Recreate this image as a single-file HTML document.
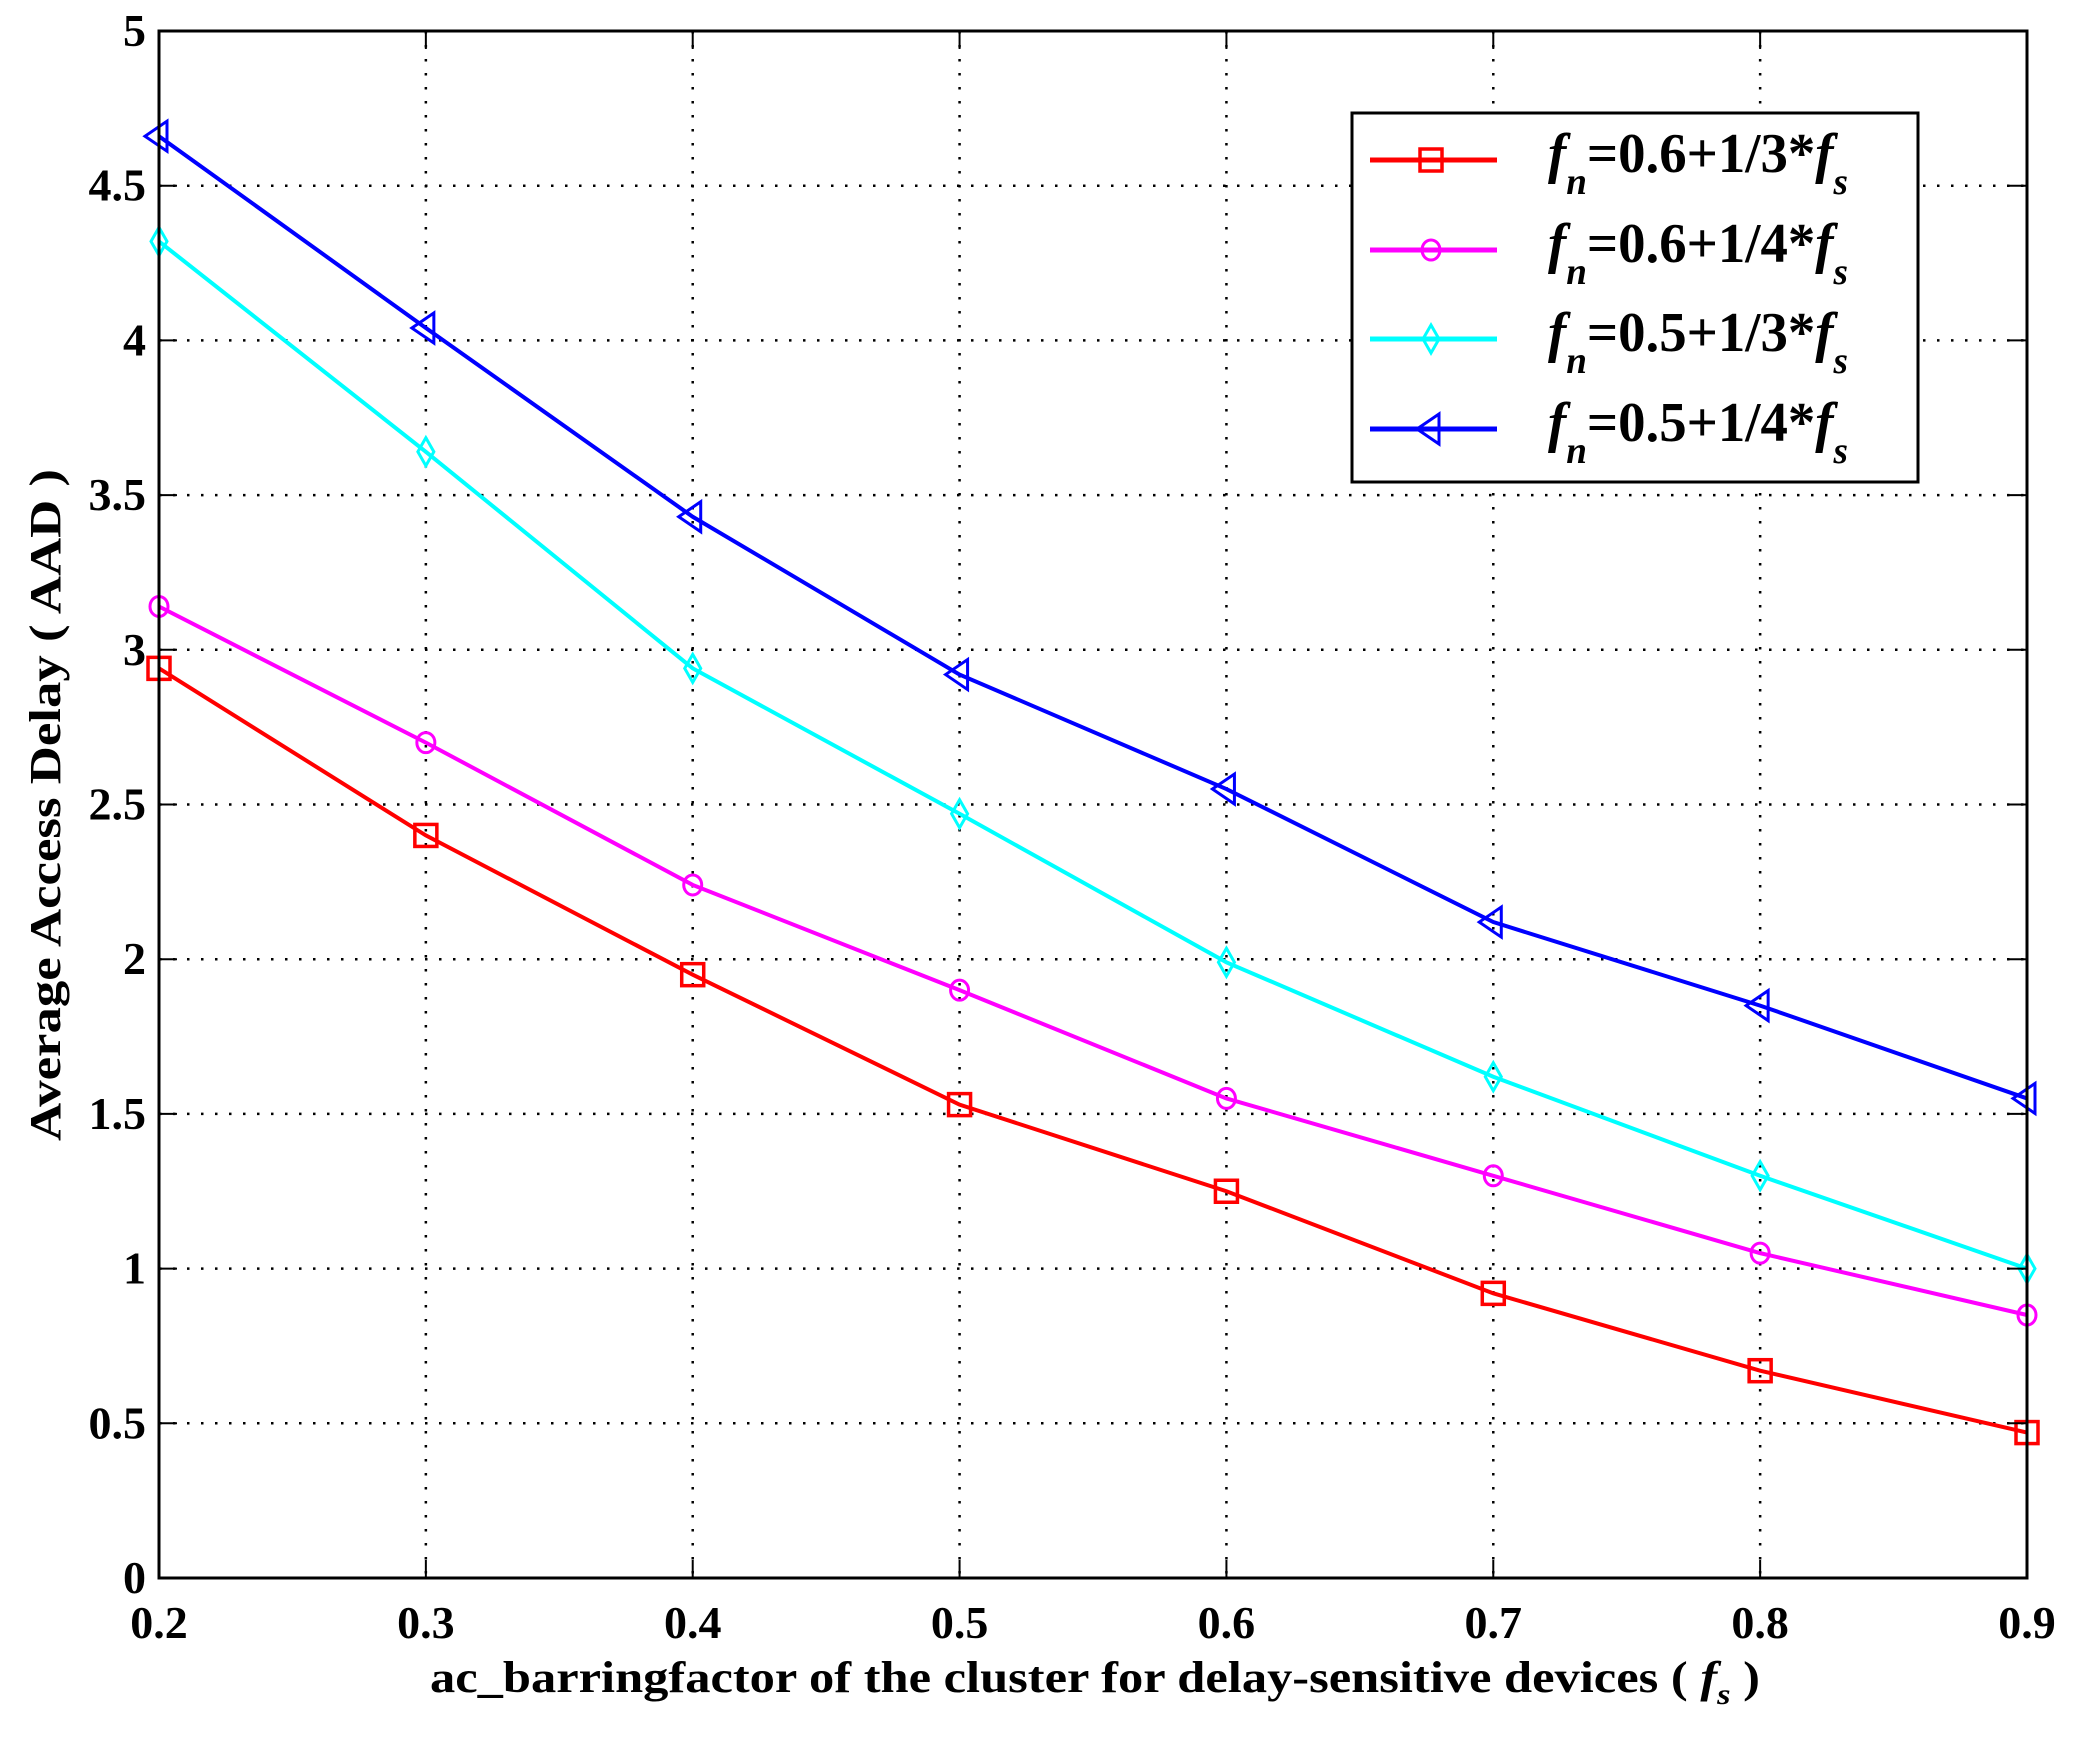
<!DOCTYPE html>
<html><head><meta charset="utf-8"><style>
html,body{margin:0;padding:0;background:#fff;}
svg text{font-family:"Liberation Serif","Times New Roman",serif;font-weight:bold;}
</style></head><body>
<svg id="chart" width="2073" height="1741" viewBox="0 0 2073 1741" xmlns="http://www.w3.org/2000/svg">
<rect width="2073" height="1741" fill="#fff"/>
<g id="grid"></g>
<g id="series"></g>
<g id="axes"></g>
<text x="1095" y="1692" font-size="44" text-anchor="middle" textLength="1330" lengthAdjust="spacingAndGlyphs">ac_barringfactor of the cluster for delay-sensitive devices  ( <tspan font-style="italic">f</tspan><tspan font-style="italic" font-size="30" dy="12">s</tspan><tspan dy="-12"> )</tspan></text>
<text transform="translate(60,805) rotate(-90)" font-size="44" text-anchor="middle" textLength="672" lengthAdjust="spacingAndGlyphs">Average Access Delay ( AAD )</text>
<g id="legend"></g>
</svg>
<script>
const categories = [0.2,0.3,0.4,0.5,0.6,0.7,0.8,0.9];
const seriesRed = [2.94,2.40,1.95,1.53,1.25,0.92,0.67,0.47];
const seriesMagenta = [3.14,2.70,2.24,1.90,1.55,1.30,1.05,0.85];
const seriesCyan = [4.32,3.64,2.94,2.47,1.99,1.62,1.30,1.00];
const seriesBlue = [4.66,4.04,3.43,2.92,2.55,2.12,1.85,1.55];
const xTickLabels = ["0.2","0.3","0.4","0.5","0.6","0.7","0.8","0.9"];
const yTicks = [0,0.5,1,1.5,2,2.5,3,3.5,4,4.5,5];
const yTickLabels = ["0","0.5","1","1.5","2","2.5","3","3.5","4","4.5","5"];
const legendLabels = [["0.6","3"],["0.6","4"],["0.5","3"],["0.5","4"]];

const L=159,R=2027,T=31,B=1578;
const NS="http://www.w3.org/2000/svg";
function xs(v){return L+(v-0.2)/(0.9-0.2)*(R-L);}
function ys(v){return B-(v/5)*(B-T);}
function mk(tag,attrs,parent){const e=document.createElementNS(NS,tag);for(const k in attrs)e.setAttribute(k,attrs[k]);parent.appendChild(e);return e;}
const grid=document.getElementById('grid'),axes=document.getElementById('axes'),ser=document.getElementById('series'),leg=document.getElementById('legend');

categories.forEach((c,i)=>{
  const x=xs(c);
  if(i>0&&i<categories.length-1){
    const g=mk('line',{x1:x,x2:x,y1:T,y2:B,stroke:'#000','stroke-width':2.5,'stroke-dasharray':'2.5 11.5'},grid);
    
    
  }
  mk('line',{x1:x,x2:x,y1:B,y2:B-18,stroke:'#000','stroke-width':2},axes);
  mk('line',{x1:x,x2:x,y1:T,y2:T+18,stroke:'#000','stroke-width':2},axes);
  const t=mk('text',{x:x,y:B+60,'font-size':46,'text-anchor':'middle'},axes);
  
  
  t.textContent=xTickLabels[i];
});
yTicks.forEach((v,i)=>{
  const y=ys(v);
  if(i>0&&i<yTicks.length-1){
    const g=mk('line',{x1:L,x2:R,y1:y,y2:y,stroke:'#000','stroke-width':2.5,'stroke-dasharray':'2.5 11.5'},grid);
    
    
  }
  mk('line',{x1:L,x2:L+18,y1:y,y2:y,stroke:'#000','stroke-width':2},axes);
  mk('line',{x1:R,x2:R-18,y1:y,y2:y,stroke:'#000','stroke-width':2},axes);
  const t=mk('text',{x:146,y:y+15,'font-size':46,'text-anchor':'end'},axes);
  
  
  t.textContent=yTickLabels[i];
});
const frame=mk('rect',{x:L,y:T,width:R-L,height:B-T,fill:'none',stroke:'#000','stroke-width':3},axes);



function marker(type,x,y,color,parent){
  let e;
  if(type==='square')e=mk('rect',{x:x-11,y:y-11,width:22,height:22,fill:'none',stroke:color,'stroke-width':3.5},parent);
  else if(type==='circle')e=mk('ellipse',{cx:x,cy:y,rx:9,ry:10,fill:'none',stroke:color,'stroke-width':3},parent);
  else if(type==='diamond')e=mk('polygon',{points:`${x},${y-14} ${x+8},${y} ${x},${y+14} ${x-8},${y}`,fill:'none',stroke:color,'stroke-width':3},parent);
  else e=mk('polygon',{points:`${x-14},${y} ${x+8},${y-15} ${x+8},${y+15}`,fill:'none',stroke:color,'stroke-width':3},parent);
  return e;
}
const seriesList=[
  {name:'red',data:seriesRed,color:'#ff0000',m:'square'},
  {name:'magenta',data:seriesMagenta,color:'#ff00ff',m:'circle'},
  {name:'cyan',data:seriesCyan,color:'#00ffff',m:'diamond'},
  {name:'blue',data:seriesBlue,color:'#0000ff',m:'triangle'}
];
seriesList.forEach(s=>{
  const g=mk('g',{},ser);
  
  
  const pts=s.data.map((v,i)=>xs(categories[i])+','+ys(v)).join(' ');
  const pl=mk('polyline',{points:pts,fill:'none',stroke:s.color,'stroke-width':4},g);
  
  
  s.data.forEach((v,i)=>{
    const m=marker(s.m,xs(categories[i]),ys(v),s.color,g);
    
    
  });
});

const box=mk('rect',{x:1352,y:113,width:566,height:369,fill:'#fff',stroke:'#000','stroke-width':3},leg);


const legY=[160,250,339,429];
seriesList.forEach((s,i)=>{
  const g=mk('g',{},leg);
  
  
  const y=legY[i];
  mk('line',{x1:1370,x2:1497,y1:y,y2:y,stroke:s.color,'stroke-width':5},g);
  marker(s.m,1431,y,s.color,g);
  const t=mk('text',{x:1548,y:y+12,'font-size':56,textLength:300,lengthAdjust:'spacingAndGlyphs'},g);
  t.innerHTML=`<tspan font-style="italic">f</tspan><tspan font-style="italic" font-size="38" dy="22">n</tspan><tspan dy="-22">=${legendLabels[i][0]}+1/${legendLabels[i][1]}*</tspan><tspan font-style="italic">f</tspan><tspan font-style="italic" font-size="38" dy="22">s</tspan>`;
});
</script>
</body></html>
